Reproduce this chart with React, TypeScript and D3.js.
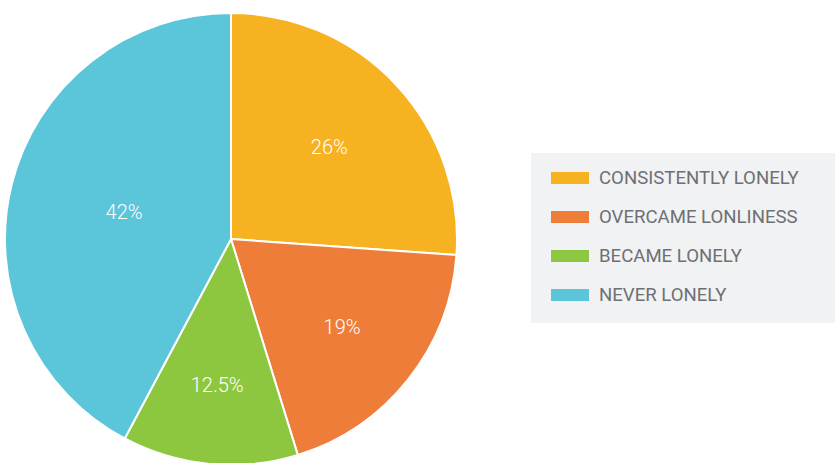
import React from "react";
import * as d3 from "d3";

const categories = ["CONSISTENTLY LONELY", "OVERCAME LONLINESS", "BECAME LONELY", "NEVER LONELY"];
const values = [26, 19, 12.5, 42];
const labels = ["26%", "19%", "12.5%", "42%"];
const colors = ["#F6B221", "#EE7D3A", "#8DC63F", "#5BC5DA"];

export default function App() {
  const W = 835, H = 463;
  const cx = 231, cy = 239, R = 226;
  const pie = d3.pie<number>().sort(null).value((d) => d);
  const arcs = pie(values);
  const arc = d3.arc<d3.PieArcDatum<number>>().innerRadius(0).outerRadius(R);

  return (
    <svg width={W} height={H} style={{ position: "absolute", left: 0, top: 0 }} fontFamily="Roboto, sans-serif">
      <g transform={`translate(${cx},${cy})`}>
        {arcs.map((a, i) => (
          <path key={i} d={arc(a) || ""} fill={colors[i]} stroke="#fff" strokeWidth={2} strokeLinejoin="round" />
        ))}
        {arcs.map((a, i) => {
          const theta = a.endAngle - a.startAngle;
          const mid = (a.startAngle + a.endAngle) / 2;
          const r = (2 * R * Math.sin(theta / 2)) / (3 * (theta / 2));
          const x = Math.sin(mid) * r;
          const y = -Math.cos(mid) * r;
          return (
            <text key={i} x={x} y={y} dy="0.35em" textAnchor="middle" fill="#fff" fontSize={20} fontWeight={300}>
              {labels[i]}
            </text>
          );
        })}
      </g>
      <rect x={531} y={153} width={304} height={170} fill="#F1F2F4" />
      {categories.map((c, i) => (
        <g key={c} transform={`translate(551,${172 + i * 39})`}>
          <rect x={0} y={0} width={38} height={12} fill={colors[i]} />
          <text x={48} y={12} fill="#6F7073" fontSize={18.6}>{c}</text>
        </g>
      ))}
    </svg>
  );
}
